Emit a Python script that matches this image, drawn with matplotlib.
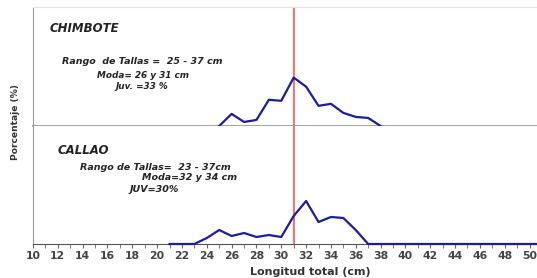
import numpy as np
import matplotlib
matplotlib.use("Agg")
from matplotlib import pyplot as plt
from matplotlib.ticker import MultipleLocator

# Talla (cm) y porcentaje por zona
chimbote_len = [25, 26, 27, 28, 29, 30, 31, 32, 33, 34, 35, 36, 37, 38]
chimbote_pct = [0, 6, 2, 3, 13, 12.5, 24, 19.5, 10, 11, 6.5, 4.5, 4, 0]

callao_len = [21, 22, 23, 24, 25, 26, 27, 28, 29, 30, 31, 32, 33, 34, 35, 36, 37,
              38, 40, 42, 44, 46, 48, 50, 51]
callao_pct = [0, 0, 0, 3, 7, 4, 5.5, 3.5, 4.5, 3.5, 14, 21.5, 11, 13.5, 13, 7, 0,
              0, 0, 0, 0, 0, 0, 0, 0]

moda_ref = 31
x_ticks = list(range(10, 51, 2))

blue = "#1c1ca0"
red = "#ff6060"
gray = "#9a9a9a"

fig = plt.figure(figsize=(5.37, 2.78), dpi=100)
left, right = 33 / 537, 1.0
top_y0, top_y1 = 1 - 126 / 278, 1 - 7 / 278
bot_y0, bot_y1 = 1 - 244 / 278, 1 - 126 / 278
ax1 = fig.add_axes([left, top_y0, right - left, top_y1 - top_y0])
ax2 = fig.add_axes([left, bot_y0, right - left, bot_y1 - bot_y0], sharex=ax1)

for ax in (ax1, ax2):
    ax.set_xlim(10, 50.6)
    ax.set_ylim(0, 59)
    ax.set_yticks([])
    ax.spines["right"].set_visible(False)
    ax.spines["left"].set_color(gray)
    ax.axvline(moda_ref, color=red, lw=1.3, zorder=1)

ax1.spines["top"].set_color("#e6e6e6")
ax1.spines["bottom"].set_color(gray)
ax1.spines["bottom"].set_linewidth(1.3)
ax1.tick_params(axis="x", bottom=False, labelbottom=False)
ax2.spines["top"].set_visible(False)
ax2.spines["bottom"].set_color("#555555")

ax1.plot(chimbote_len, chimbote_pct, color=blue, lw=1.6, solid_joinstyle="round", zorder=3)
ax2.plot(callao_len, callao_pct, color=blue, lw=1.6, solid_joinstyle="round", zorder=3,
         clip_on=False)

ax2.set_xticks(x_ticks)
ax2.xaxis.set_minor_locator(MultipleLocator(1))
ax2.tick_params(axis="x", which="both", direction="out", length=3, color="#666666",
                labelsize=7.8, labelcolor="#444444", pad=2)
for lab in ax2.get_xticklabels():
    lab.set_fontweight("bold")

tkw = dict(fontweight="bold", style="italic", color="#222222", va="center")
fig.text(50 / 537, 1 - 28 / 278, "CHIMBOTE", fontsize=8.5, **tkw)
fig.text(62 / 537, 1 - 62 / 278, "Rango  de Tallas =  25 - 37 cm", fontsize=6.8, **tkw)
fig.text(97 / 537, 1 - 75 / 278, "Moda= 26 y 31 cm", fontsize=6.4, **tkw)
fig.text(115 / 537, 1 - 86 / 278, "Juv. =33 %", fontsize=6.4, **tkw)

fig.text(58 / 537, 1 - 150 / 278, "CALLAO", fontsize=8.5, **tkw)
fig.text(80 / 537, 1 - 167 / 278, "Rango de Tallas=  23 - 37cm", fontsize=6.8, **tkw)
fig.text(237 / 537, 1 - 177 / 278, "Moda=32 y 34 cm", fontsize=6.8, ha="right", **tkw)
fig.text(130 / 537, 1 - 189 / 278, "JUV=30%", fontsize=6.8, **tkw)

fig.text(310 / 537, 1 - 272 / 278, "Longitud total (cm)", fontsize=8, fontweight="bold",
         color="#333333", ha="center", va="center")
fig.text(16 / 537, 1 - 122 / 278, "Porcentaje (%)", fontsize=6.6, rotation=90,
         fontweight="bold", color="#333333", ha="center", va="center")

fig.savefig("out.png", dpi=100)
